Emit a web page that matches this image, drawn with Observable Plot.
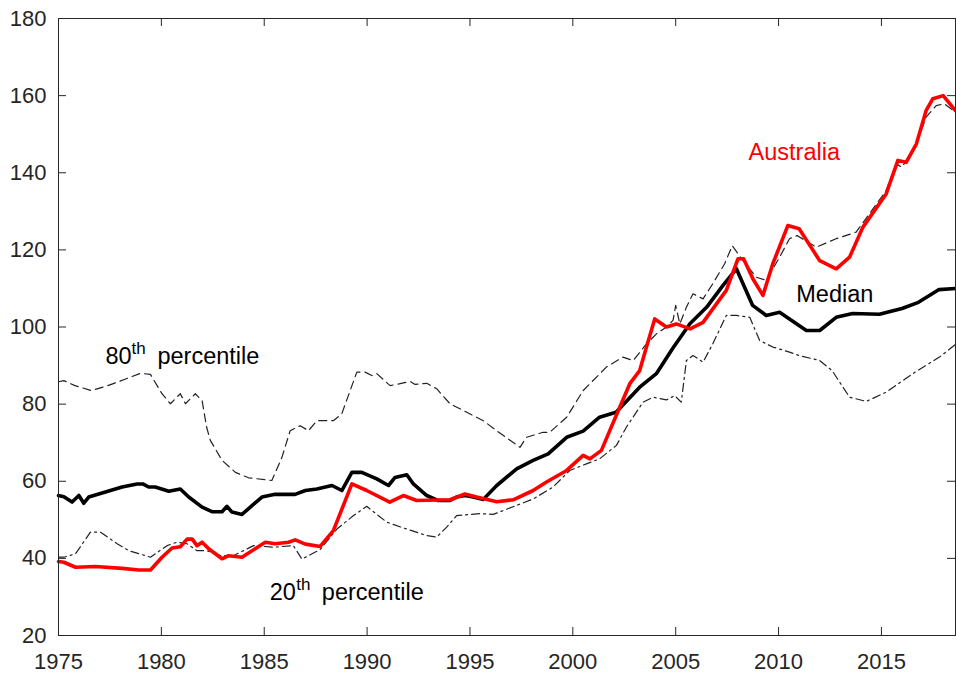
<!DOCTYPE html>
<html>
<head>
<meta charset="utf-8">
<script src="https://cdn.jsdelivr.net/npm/d3@7"></script>
<script src="https://cdn.jsdelivr.net/npm/@observablehq/plot@0.6"></script>
<style>
  html, body { margin: 0; padding: 0; background: #fff; }
  #chart { width: 956px; height: 677px; }
</style>
</head>
<body>
<div id="chart"></div>
<script>
// ---- Data ----
const medianYears = [1975.0,1975.26,1975.66,1975.99,1976.23,1976.47,1977.28,1978.09,1978.82,1979.1,1979.38,1979.7,1980.36,1980.92,1981.33,1981.98,1982.46,1982.95,1983.19,1983.43,1983.92,1984.24,1984.89,1985.53,1986.5,1987.0,1987.56,1988.29,1988.77,1989.26,1989.74,1990.47,1991.04,1991.36,1991.93,1992.25,1992.9,1993.46,1994.03,1994.35,1994.76,1995.16,1995.65,1996.3,1997.27,1998.07,1998.8,1999.7,2000.5,2001.3,2002.1,2003.25,2004.06,2004.85,2005.7,2006.5,2007.3,2007.95,2008.74,2009.4,2010.05,2011.35,2012.0,2012.8,2013.6,2014.9,2016.0,2016.8,2017.8,2018.6];
const medianValues = [56.3,56.0,54.6,56.3,54.3,55.9,57.2,58.5,59.3,59.3,58.5,58.5,57.4,58.0,55.9,53.3,52.1,52.1,53.5,52.0,51.4,52.9,55.9,56.6,56.6,57.6,58.0,58.9,57.6,62.3,62.3,60.6,58.9,61.0,61.7,59.3,56.3,55.0,55.0,55.9,56.3,55.9,55.3,58.9,63.2,65.4,67.1,71.4,73.0,76.6,77.9,84.4,87.9,94.4,100.9,105.1,110.8,115.1,105.6,103.0,103.8,99.1,99.1,102.5,103.5,103.3,104.8,106.4,109.7,110.0];

const australiaYears = [1975.0,1975.26,1975.83,1976.8,1978.09,1978.9,1979.47,1980.03,1980.52,1980.92,1981.25,1981.5,1981.73,1981.98,1982.3,1982.95,1983.27,1983.92,1984.56,1985.05,1985.53,1986.18,1986.5,1987.0,1987.72,1988.36,1989.26,1989.98,1991.1,1991.76,1992.41,1994.03,1994.76,1995.32,1996.3,1997.1,1998.07,1998.72,1999.7,2000.5,2000.83,2001.39,2001.8,2002.28,2002.77,2003.25,2003.58,2003.98,2004.55,2005.03,2005.7,2006.33,2006.98,2007.46,2008.03,2008.3,2008.75,2009.24,2009.72,2010.45,2011.0,2012.0,2012.8,2013.45,2014.1,2015.23,2015.8,2016.2,2016.7,2017.17,2017.5,2018.0,2018.6];
const australiaValues = [39.2,39.0,37.7,37.9,37.4,37.0,37.0,40.3,42.7,43.0,45.0,45.0,43.3,44.2,42.5,39.9,40.7,40.3,42.5,44.2,43.8,44.2,44.8,43.7,43.1,47.2,59.3,57.6,54.6,56.3,55.0,55.2,56.7,55.9,54.7,55.2,57.6,59.8,62.8,66.7,65.8,68.0,73.2,79.2,85.3,88.7,94.8,102.1,100.0,100.8,99.5,101.2,106.0,109.5,117.7,117.7,112.5,108.2,116.4,126.3,125.5,117.2,115.1,118.1,125.9,134.5,143.2,142.7,147.5,156.1,159.2,160.0,156.1];

const p80Years = [1975.0,1975.26,1975.8,1976.6,1977.4,1978.2,1978.98,1979.47,1980.03,1980.44,1980.92,1981.17,1981.65,1981.98,1982.2,1982.38,1982.95,1983.6,1984.24,1985.37,1985.86,1986.26,1986.75,1987.15,1987.56,1988.36,1988.77,1989.5,1989.9,1990.23,1990.47,1991.12,1991.6,1992.09,1992.33,1992.9,1993.38,1994.03,1994.84,1995.65,1996.3,1997.43,1997.75,1998.56,1998.88,1999.7,2000.5,2001.63,2002.44,2002.93,2003.58,2004.06,2004.55,2004.87,2005.0,2005.2,2005.52,2005.84,2006.33,2006.8,2007.38,2007.75,2008.27,2008.92,2009.4,2010.05,2010.53,2010.9,2011.83,2012.8,2013.77,2014.42,2015.23,2015.72,2016.0,2016.7,2017.17,2017.66,2018.06,2018.6];
const p80Values = [85.8,86.1,84.8,83.5,84.8,86.4,88.0,87.7,82.7,80.1,82.7,80.1,82.7,80.9,74.0,70.6,65.4,62.3,60.9,60.2,66.2,73.1,74.4,73.1,75.7,75.7,77.5,88.3,88.3,87.4,87.9,84.8,85.3,85.9,85.1,85.4,84.0,80.1,77.9,75.7,73.1,68.8,71.4,72.7,72.7,76.6,83.5,89.6,92.2,91.3,95.6,98.2,100.0,101.7,105.6,100.8,105.1,108.6,107.3,111.2,116.4,121.1,117.2,112.9,112.1,118.1,122.9,123.7,120.7,122.9,124.6,129.4,135.4,142.3,141.4,147.5,154.4,157.4,157.9,155.7];

const p20Years = [1975.0,1975.26,1975.83,1976.55,1977.04,1977.85,1978.42,1979.47,1980.28,1980.76,1981.25,1981.73,1982.2,1982.86,1983.5,1984.48,1985.45,1986.42,1986.83,1987.72,1988.53,1989.34,1989.98,1990.95,1991.93,1992.9,1993.38,1993.87,1994.35,1995.49,1996.13,1997.1,1998.07,1999.04,1999.85,2000.66,2001.3,2002.12,2002.6,2003.41,2003.9,2004.55,2004.95,2005.27,2005.52,2005.84,2006.33,2006.8,2007.46,2007.95,2008.6,2009.08,2009.72,2010.53,2011.0,2012.0,2012.6,2013.45,2014.26,2015.23,2016.52,2017.82,2018.6];
const p20Values = [40.3,40.3,41.2,46.8,46.8,43.8,42.0,40.3,43.3,44.2,43.8,42.0,42.0,40.7,40.7,43.3,42.9,43.3,39.8,42.3,47.6,51.1,53.5,49.4,47.6,45.9,45.5,48.1,51.1,51.6,51.4,53.4,55.4,58.5,62.8,64.5,65.8,69.3,74.0,80.5,81.8,81.1,82.2,80.5,91.3,92.6,90.9,95.6,103.0,103.0,102.5,96.5,94.8,93.5,92.6,91.3,88.7,81.8,80.7,83.1,87.9,92.2,95.5];

const xTicks = [1975, 1980, 1985, 1990, 1995, 2000, 2005, 2010, 2015];
const yTicks = [20, 40, 60, 80, 100, 120, 140, 160, 180];

// Annotation text pieces (anchor positions in data units)
const labelText  = ["80", "th", "percentile", "20", "th", "percentile", "Median", "Australia"];
const labelYear  = [1977.28, 1978.55, 1979.81, 1985.27, 1986.56, 1987.80, 2010.86, 2008.54];
const labelValue = [90.5, 93.1, 90.5, 29.3, 31.9, 29.3, 106.4, 143.2];
const labelSuper = [false, true, false, false, true, false, false, false];
const labelRed   = [false, false, false, false, false, false, false, true];

// ---- Build tables ----
const zip = (xs, ys) => xs.map((x, i) => ({year: x, value: ys[i]}));
const median = zip(medianYears, medianValues);
const australia = zip(australiaYears, australiaValues);
const p80 = zip(p80Years, p80Values);
const p20 = zip(p20Years, p20Values);
const labels = labelText.map((t, i) => ({text: t, year: labelYear[i], value: labelValue[i], sup: labelSuper[i], red: labelRed[i]}));

const axisColor = "#262626";
const font = "'Liberation Sans', Arial, Helvetica, sans-serif";

const W = 956, H = 677, mL = 58, mR = 1, mT = 18, mB = 42, tick = 8;
const frameW = W - mL - mR, frameH = H - mT - mB;

const chart = Plot.plot({
  width: W,
  height: H,
  marginLeft: mL,
  marginRight: mR,
  marginTop: mT,
  marginBottom: mB,
  style: {fontFamily: font, fontSize: "22px", color: axisColor, background: "#fff", overflow: "visible"},
  x: {domain: [1975, 2018.6]},
  y: {domain: [20, 180]},
  marks: [
    // series
    Plot.line(p80, {x: "year", y: "value", stroke: "#222", strokeWidth: 1.2, strokeDasharray: "8,5"}),
    Plot.line(p20, {x: "year", y: "value", stroke: "#222", strokeWidth: 1.2, strokeDasharray: "8,4,2,4"}),
    Plot.line(median, {x: "year", y: "value", stroke: "#000", strokeWidth: 3.6, strokeLinejoin: "round"}),
    Plot.line(australia, {x: "year", y: "value", stroke: "#ff0000", strokeWidth: 3.6, strokeLinejoin: "round"}),
    // box
    Plot.frame({stroke: axisColor, strokeWidth: 1}),
    // tick labels
    Plot.axisX(xTicks, {anchor: "bottom", tickSize: 0, tickPadding: 18, tickFormat: d => String(d), fontSize: 22, fill: axisColor, label: null}),
    Plot.axisY(yTicks, {anchor: "left", tickSize: 0, tickPadding: 12, tickFormat: d => String(d), fontSize: 22, fill: axisColor, label: null}),
    // inward tick marks on all four sides
    Plot.ruleX(xTicks, {stroke: axisColor, insetTop: frameH - tick}),
    Plot.ruleX(xTicks, {stroke: axisColor, insetBottom: frameH - tick}),
    Plot.ruleY(yTicks, {stroke: axisColor, insetRight: frameW - tick}),
    Plot.ruleY(yTicks, {stroke: axisColor, insetLeft: frameW - tick}),
    // annotations
    Plot.text(labels.filter(d => !d.sup), {x: "year", y: "value", text: "text", textAnchor: "start", lineAnchor: "bottom",
      fill: d => d.red ? "#ff0000" : "#000", fontSize: 23.5}),
    Plot.text(labels.filter(d => d.sup), {x: "year", y: "value", text: "text", textAnchor: "start", lineAnchor: "bottom",
      fill: "#000", fontSize: 17})
  ]
});
document.getElementById("chart").appendChild(chart);
</script>
</body>
</html>
